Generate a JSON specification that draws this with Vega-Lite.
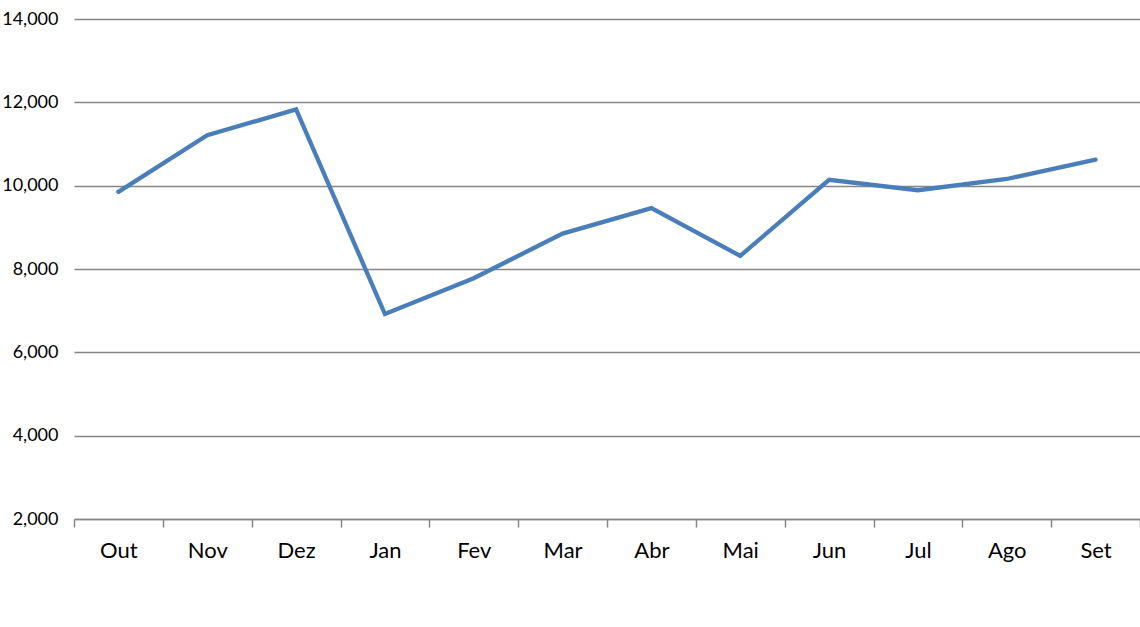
{
  "$schema": "https://vega.github.io/schema/vega-lite/v6.json",
  "autosize": {"type": "none"},
  "padding": {"left": 74, "top": 19, "right": 0, "bottom": 108},
  "width": 1066,
  "height": 500,
  "background": "white",
  "config": {
    "view": {"stroke": null},
    "font": "Lato",
    "axis": {"labelFont": "Lato", "labelColor": "#000000", "labelFontSize": 18}
  },
  "data": {
    "values": [
      {"mes": "Out", "valor": 9850},
      {"mes": "Nov", "valor": 11210},
      {"mes": "Dez", "valor": 11830},
      {"mes": "Jan", "valor": 6920},
      {"mes": "Fev", "valor": 7780},
      {"mes": "Mar", "valor": 8850},
      {"mes": "Abr", "valor": 9460},
      {"mes": "Mai", "valor": 8315},
      {"mes": "Jun", "valor": 10140},
      {"mes": "Jul", "valor": 9890},
      {"mes": "Ago", "valor": 10160},
      {"mes": "Set", "valor": 10625}
    ]
  },
  "mark": {"type": "line", "color": "#4A7EBB", "strokeWidth": 4.3, "strokeJoin": "miter", "strokeCap": "round"},
  "encoding": {
    "x": {
      "field": "mes",
      "type": "ordinal",
      "sort": null,
      "scale": {"type": "band", "paddingInner": 0, "paddingOuter": 0},
      "axis": {
        "title": null,
        "labelAngle": 0,
        "labelFontSize": 22,
        "grid": false,
        "domainColor": "#868686",
        "domainWidth": 1.5,
        "tickColor": "#868686",
        "tickWidth": 1.5,
        "tickSize": 8,
        "tickBand": "extent",
        "labelPadding": 13,
        "labelBaseline": "top"
      }
    },
    "y": {
      "field": "valor",
      "type": "quantitative",
      "scale": {"domain": [2000, 14000], "nice": false, "zero": false},
      "axis": {
        "title": null,
        "values": [2000, 4000, 6000, 8000, 10000, 12000, 14000],
        "format": ",d",
        "domain": false,
        "ticks": false,
        "grid": true,
        "gridColor": "#868686",
        "gridWidth": 1.5,
        "labelPadding": 16
      }
    }
  }
}
